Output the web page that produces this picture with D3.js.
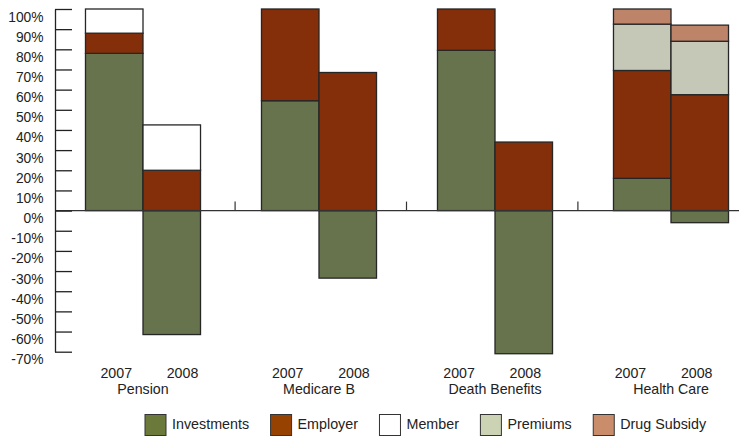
<!DOCTYPE html>
<html>
<head>
<meta charset="utf-8">
<script src="https://cdn.jsdelivr.net/npm/d3@7"></script>
<style>
  html, body { margin: 0; padding: 0; background: #fff; }
  svg { display: block; font-family: "Liberation Sans", Arial, Helvetica, sans-serif; }
</style>
</head>
<body>
<svg id="chart" width="739" height="437"></svg>
<script>
// ---- data ----
const categories = ["Pension", "Medicare B", "Death Benefits", "Health Care"];
const years = ["2007", "2008"];
const seriesNames = ["Investments", "Employer", "Member", "Premiums", "Drug Subsidy"];
// values in percent, order: Pension 2007, Pension 2008, Medicare B 2007, Medicare B 2008,
// Death Benefits 2007, Death Benefits 2008, Health Care 2007, Health Care 2008
const investments = [78, -61.5, 54.5, -33.5, 79.5, -71, 16, -6];
const employer    = [10, 20, 45.5, 68.5, 20.5, 34, 53.5, 57.5];
const member      = [12, 22.5, 0, 0, 0, 0, 0, 0];
const premiums    = [0, 0, 0, 0, 0, 0, 23, 26.5];
const drugSubsidy = [0, 0, 0, 0, 0, 0, 7.5, 8];
const tickValues = [100, 90, 80, 70, 60, 50, 40, 30, 20, 10, 0, -10, -20, -30, -40, -50, -60, -70];

// ---- styles ----
const barColors = ["#66734c", "#842f0a", "#ffffff", "#c5c8b7", "#bd846a"];
const legendColors = ["#6b7a3b", "#974200", "#ffffff", "#ccd2b4", "#c98d6c"];

const seriesValues = [investments, employer, member, premiums, drugSubsidy];
const rows = [];
categories.forEach((c, ci) => years.forEach((yr, yi) => {
  const r = { category: c, year: yr };
  seriesNames.forEach((s, si) => r[s] = seriesValues[si][ci * years.length + yi]);
  rows.push(r);
}));

const svg = d3.select("#chart");
const W = 739;

const y = d3.scaleLinear().domain([-70, 100]).range([351.7, 9]);
const x0 = d3.scaleBand().domain(categories).range([55, 759]).paddingInner(0).paddingOuter(0);
const x1 = d3.scaleBand().domain(years).range([0, x0.bandwidth()]).paddingInner(0).paddingOuter(0.53);
const xl = d3.scaleBand().domain(categories).range([63.7, 749.3]);
const xlYear = d3.scaleBand().domain(years).range([0, xl.bandwidth()]).paddingOuter(0.2935);

const stack = d3.stack().keys(seriesNames).offset(d3.stackOffsetDiverging);
const stacked = stack(rows);

// bars
const gBars = svg.append("g");
stacked.forEach((layer, si) => {
  gBars.selectAll(null)
    .data(layer.filter(d => d[1] !== d[0]))
    .join("rect")
    .attr("x", d => x0(d.data.category) + x1(d.data.year))
    .attr("width", x1.bandwidth())
    .attr("y", d => y(Math.max(d[0], d[1])))
    .attr("height", d => Math.abs(y(d[0]) - y(d[1])))
    .attr("fill", barColors[si])
    .attr("stroke", "#262626")
    .attr("stroke-width", 1.3);
});

// zero line
svg.append("line")
  .attr("x1", 55).attr("x2", W)
  .attr("y1", y(0)).attr("y2", y(0))
  .attr("stroke", "#333").attr("stroke-width", 1.2);

// category separator ticks
svg.selectAll(".sep")
  .data(categories.slice(1))
  .join("line")
  .attr("x1", d => xl(d)).attr("x2", d => xl(d))
  .attr("y1", y(0)).attr("y2", y(0) - 9)
  .attr("stroke", "#333").attr("stroke-width", 1.2);

// y axis
const yAxis = d3.axisLeft(y)
  .tickValues(tickValues)
  .tickSizeInner(-17)
  .tickSizeOuter(0)
  .tickPadding(11.5)
  .tickFormat(d => d + "%");
const gy = svg.append("g").attr("transform", "translate(55,0)").call(yAxis);
gy.select(".domain").attr("stroke", "#222").attr("stroke-width", 1.3);
gy.selectAll(".tick line").attr("stroke", "#222").attr("stroke-width", 1.3);
gy.selectAll(".tick text")
  .attr("dy", "12px")
  .attr("fill", "#222")
  .style("font-size", "13.8px")
  .style("font-family", "'Liberation Sans', Arial, sans-serif");

// year labels
categories.forEach(c => {
  svg.selectAll(null)
    .data(years)
    .join("text")
    .attr("x", yr => xl(c) + xlYear(yr) + xlYear.bandwidth() / 2)
    .attr("y", 377.5)
    .attr("text-anchor", "middle")
    .attr("fill", "#222")
    .style("font-size", "14.2px")
    .text(yr => yr);
});

// category labels
svg.selectAll(".cat")
  .data(categories)
  .join("text")
  .attr("x", c => x0(c) + x0.bandwidth() / 2)
  .attr("y", 394)
  .attr("text-anchor", "middle")
  .attr("fill", "#222")
  .style("font-size", "14.2px")
  .text(c => c);

// legend
const gLeg = svg.append("g");
let lx = 145;
seriesNames.forEach((s, i) => {
  gLeg.append("rect")
    .attr("x", lx).attr("y", 414.5)
    .attr("width", 21).attr("height", 21)
    .attr("fill", legendColors[i])
    .attr("stroke", "#333").attr("stroke-width", 1);
  const t = gLeg.append("text")
    .attr("x", lx + 27).attr("y", 429)
    .attr("fill", "#222")
    .style("font-size", "14.3px")
    .text(s);
  lx = lx + 27 + t.node().getComputedTextLength() + 21.5;
});
</script>
</body>
</html>
